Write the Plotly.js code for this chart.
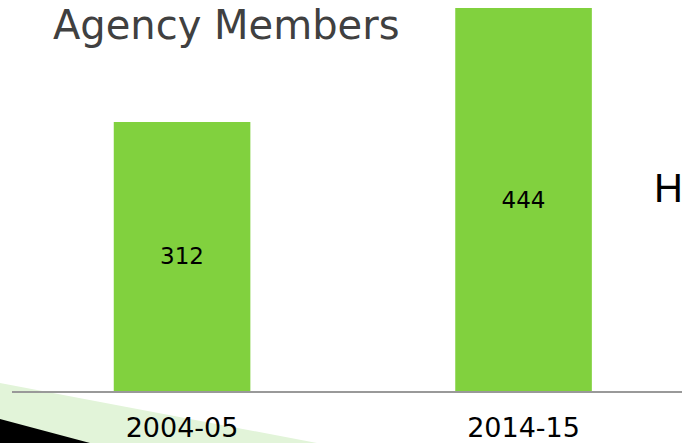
<!DOCTYPE html>
<html>
<head>
<meta charset="utf-8">
<script src="https://cdn.plot.ly/plotly-3.0.1.min.js"></script>
<style>html,body{margin:0;padding:0;background:#fff;}#chart{width:682px;height:443px;}</style>
</head>
<body>
<div id="chart"></div>
<script>
const categories = ["2004-05", "2014-15"];
const members = [312, 444];
const titleText = "Agency Members";

const W = 682, H = 443;
const mL = 12, mR = 0, mT = 0, mB = 52;
const pw = W - mL - mR, ph = H - mT - mB;
function px(x) { return (x - mL) / pw; }
function py(y) { return (H - mB - y) / ph; }
function path(pts) {
  return "M" + pts.map(p => px(p[0]).toFixed(4) + "," + py(p[1]).toFixed(4)).join(" L") + " Z";
}

const trace = {
  type: "bar",
  x: categories,
  y: members,
  text: members.map(String),
  textposition: "inside",
  insidetextanchor: "middle",
  textangle: 0,
  textfont: {family: "DejaVu Sans", size: 23, color: "#000"},
  marker: {color: "#81D13E", line: {width: 0}},
  width: 0.4,
  hoverinfo: "none"
};

const layout = {
  width: W, height: H,
  margin: {l: mL, r: mR, t: mT, b: mB, pad: 0},
  paper_bgcolor: "#fff",
  plot_bgcolor: "rgba(0,0,0,0)",
  showlegend: false,
  title: {
    text: titleText,
    font: {family: "DejaVu Sans", size: 40, color: "#404040"},
    xref: "container", yref: "container",
    x: 53 / W, xanchor: "left",
    y: 1 - 11 / H, yanchor: "top"
  },
  xaxis: {
    type: "category",
    range: [-0.498, 1.464],
    showgrid: false, zeroline: false,
    showline: true, linecolor: "#999", linewidth: 2,
    ticks: "",
    tickfont: {family: "DejaVu Sans", size: 27, color: "#000"},
    ticklabelstandoff: 12,
    fixedrange: true
  },
  yaxis: {
    range: [0, 453.3],
    visible: false,
    showgrid: false, zeroline: false,
    fixedrange: true
  },
  shapes: [
    {type: "path", xref: "paper", yref: "paper", layer: "below",
     path: path([[0, 383], [317, 443], [0, 443]]),
     fillcolor: "#E2F4D9", line: {width: 0}},
    {type: "path", xref: "paper", yref: "paper", layer: "below",
     path: path([[0, 419], [90, 443], [0, 443]]),
     fillcolor: "#000", line: {width: 0}}
  ],
  annotations: [
    {text: "H", xref: "paper", yref: "paper", x: px(652), y: py(188),
     xanchor: "left", yanchor: "middle", showarrow: false,
     font: {family: "Liberation Sans", size: 40, color: "#000"}}
  ]
};

Plotly.newPlot("chart", [trace], layout, {displayModeBar: false, staticPlot: true});
</script>
</body>
</html>
